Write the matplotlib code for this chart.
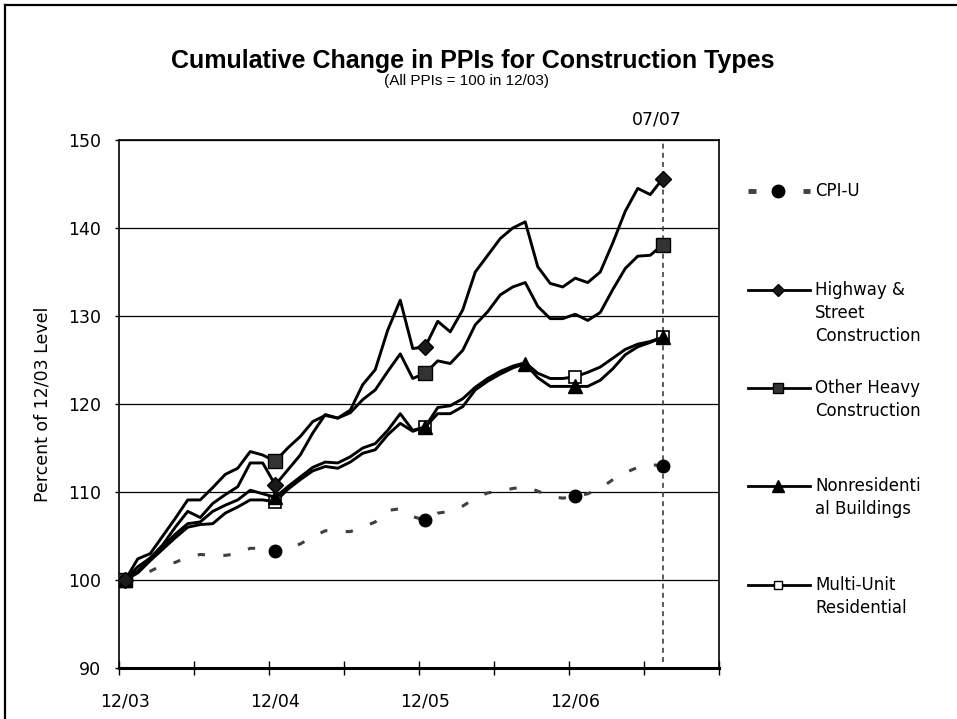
import matplotlib
matplotlib.use("Agg")
import matplotlib.pyplot as plt
from matplotlib.lines import Line2D
import numpy as np

# monthly index values, 12/03 (=100) through 07/07
months = list(range(44))
cpi = [100.0, 100.5, 101.0, 101.7, 102.0, 102.6, 102.9, 102.8, 102.8, 103.0, 103.6, 103.6,
       103.3, 103.5, 104.1, 104.9, 105.6, 105.5, 105.5, 106.0, 106.6, 107.9, 108.1, 107.2,
       106.8, 107.6, 107.8, 108.4, 109.3, 109.9, 110.1, 110.4, 110.6, 110.1, 109.5, 109.3,
       109.5, 109.8, 110.4, 111.4, 112.2, 112.8, 113.1, 113.0]
highway = [100.0, 101.5, 102.5, 104.0, 106.0, 107.8, 107.1, 108.7, 109.7, 110.6, 113.3, 113.3,
           110.8, 112.5, 114.2, 116.7, 118.8, 118.4, 119.3, 122.2, 123.9, 128.4, 131.8, 126.3,
           126.5, 129.4, 128.2, 130.7, 135.0, 136.9, 138.8, 140.0, 140.7, 135.6, 133.7, 133.3,
           134.3, 133.8, 135.0, 138.3, 141.9, 144.5, 143.8, 145.6]
other_heavy = [100.0, 102.4, 103.0, 105.0, 107.0, 109.1, 109.1, 110.5, 112.0, 112.7, 114.6, 114.2,
               113.5, 115.0, 116.3, 118.0, 118.7, 118.4, 119.0, 120.5, 121.6, 123.7, 125.7, 122.9,
               123.5, 124.9, 124.6, 126.1, 129.0, 130.5, 132.4, 133.3, 133.8, 131.1, 129.7, 129.7,
               130.2, 129.5, 130.4, 133.0, 135.4, 136.8, 136.9, 138.1]
nonres = [100.0, 101.0, 102.5, 103.8, 105.2, 106.4, 106.6, 107.8, 108.5, 109.1, 110.2, 109.8,
          109.4, 110.6, 111.7, 112.8, 113.4, 113.3, 114.0, 115.0, 115.5, 117.0, 118.9, 117.0,
          117.4, 118.9, 118.9, 119.7, 121.6, 122.6, 123.4, 124.1, 124.6, 123.0, 122.0, 122.0,
          122.0, 122.0, 122.7, 124.0, 125.6, 126.5, 127.0, 127.6]
multi_unit = [100.0, 100.8, 102.2, 103.5, 104.8, 106.0, 106.3, 106.4, 107.6, 108.3, 109.1, 109.1,
              108.9, 110.3, 111.4, 112.4, 112.9, 112.7, 113.4, 114.4, 114.8, 116.5, 117.8, 116.9,
              117.4, 119.6, 119.8, 120.6, 121.9, 122.9, 123.7, 124.3, 124.7, 123.5, 122.9, 122.9,
              123.1, 123.6, 124.2, 125.2, 126.2, 126.8, 127.1, 127.6]

# where the markers sit
cpi_marks = [0, 12, 24, 36, 43]
highway_marks = [0, 12, 24, 43]
other_marks = [0, 12, 24, 43]
nonres_marks = [0, 12, 24, 32, 36, 43]
multi_marks = [0, 12, 24, 36, 43]

x_labels = ["12/03", "12/04", "12/05", "12/06"]
x_label_months = [0, 12, 24, 36]

W, H = 957, 719
fig = plt.figure(figsize=(W / 100, H / 100), dpi=100)
fig.patch.set_facecolor("white")

ax = fig.add_axes([119 / W, 1 - 668 / H, 600 / W, 528 / H])
x = np.array(months) + 0.5

ax.plot(x, cpi, color="#404040", lw=2.2, dashes=(2.4, 6.0), marker="o", ms=9,
        mfc="black", mec="black", markevery=cpi_marks, zorder=3)
ax.plot(x, multi_unit, color="black", lw=2.1, marker="s", ms=9, mfc="white", mec="black",
        mew=1.2, markevery=multi_marks, zorder=4)
ax.plot(x, nonres, color="black", lw=2.1, marker="^", ms=10, mfc="black", mec="black",
        markevery=nonres_marks, zorder=5)
ax.plot(x, other_heavy, color="black", lw=2.1, marker="s", ms=10, mfc="#333333", mec="black",
        mew=1.0, markevery=other_marks, zorder=4)
ax.plot(x, highway, color="black", lw=2.1, marker="D", ms=8, mfc="#1a1a1a", mec="black",
        markevery=highway_marks, zorder=5)

# dashed marker for latest month
ax.plot([x[-1], x[-1]], [90.7, 150], color="#404040", lw=1.2, dashes=(3, 2.5), zorder=2)

ax.set_xlim(0, 48)
ax.set_ylim(90, 150)
ax.set_yticks(range(90, 151, 10))
ax.grid(axis="y", color="black", lw=0.9)
ax.set_axisbelow(True)

ax.set_xticks(range(0, 49, 6))
ax.set_xticklabels([])
ax.set_xticks([m + 0.5 for m in x_label_months], minor=True)
ax.set_xticklabels(x_labels, minor=True, fontsize=12.5)
ax.tick_params(axis="x", which="major", direction="inout", length=10, width=1)
ax.tick_params(axis="x", which="minor", length=0, pad=18)
ax.tick_params(axis="y", direction="out", length=3, width=1, pad=10, labelsize=12.5)

for s in ["left", "top", "right"]:
    ax.spines[s].set_linewidth(1.2)
ax.spines["bottom"].set_linewidth(2.2)

ax.set_ylabel("Percent of 12/03 Level", fontsize=12.5)
ax.yaxis.set_label_coords(-0.113, 0.5)

fig.text(473 / W, 1 - 61 / H, "Cumulative Change in PPIs for Construction Types",
         ha="center", va="center", fontsize=18, fontweight="bold", family="Liberation Sans")
fig.text(466 / W, 1 - 81 / H, "(All PPIs = 100 in 12/03)", ha="center", va="center",
         fontsize=11, family="Liberation Sans")
fig.text(657 / W, 1 - 120 / H, "07/07", ha="center", va="center", fontsize=12.5)

# legend, drawn by hand to keep the spread-out layout
def fx(px):
    return px / W

def fy(py):
    return 1 - py / H

legend = [
    (191, ["CPI-U"]),
    (290, ["Highway &", "Street", "Construction"]),
    (388, ["Other Heavy", "Construction"]),
    (486, ["Nonresidenti", "al Buildings"]),
    (585, ["Multi-Unit", "Residential"]),
]
styles = [
    dict(marker="o", ms=9, mfc="black", mec="black"),
    dict(marker="D", ms=6, mfc="#1a1a1a", mec="black"),
    dict(marker="s", ms=7, mfc="#333333", mec="black"),
    dict(marker="^", ms=8, mfc="black", mec="black"),
    dict(marker="s", ms=6, mfc="white", mec="black"),
]
for (py, lines), st in zip(legend, styles):
    if st["marker"] == "o":
        fig.add_artist(Line2D([fx(748), fx(756)], [fy(py), fy(py)], color="#404040", lw=3.5,
                              solid_capstyle="butt"))
        fig.add_artist(Line2D([fx(803), fx(810)], [fy(py), fy(py)], color="#404040", lw=3.5,
                              solid_capstyle="butt"))
    else:
        fig.add_artist(Line2D([fx(748), fx(810)], [fy(py), fy(py)], color="black", lw=2))
    fig.add_artist(Line2D([fx(778)], [fy(py)], ls="none", **st))
    for k, t in enumerate(lines):
        fig.text(fx(815), fy(py + 23 * k), t, ha="left", va="center", fontsize=12)

# outer frame of the chart area
fig.add_artist(Line2D([fx(5), fx(5)], [0, fy(5)], color="black", lw=1.6))
fig.add_artist(Line2D([fx(5), 1], [fy(5), fy(5)], color="black", lw=1.6))

fig.savefig("out.png", dpi=100)
